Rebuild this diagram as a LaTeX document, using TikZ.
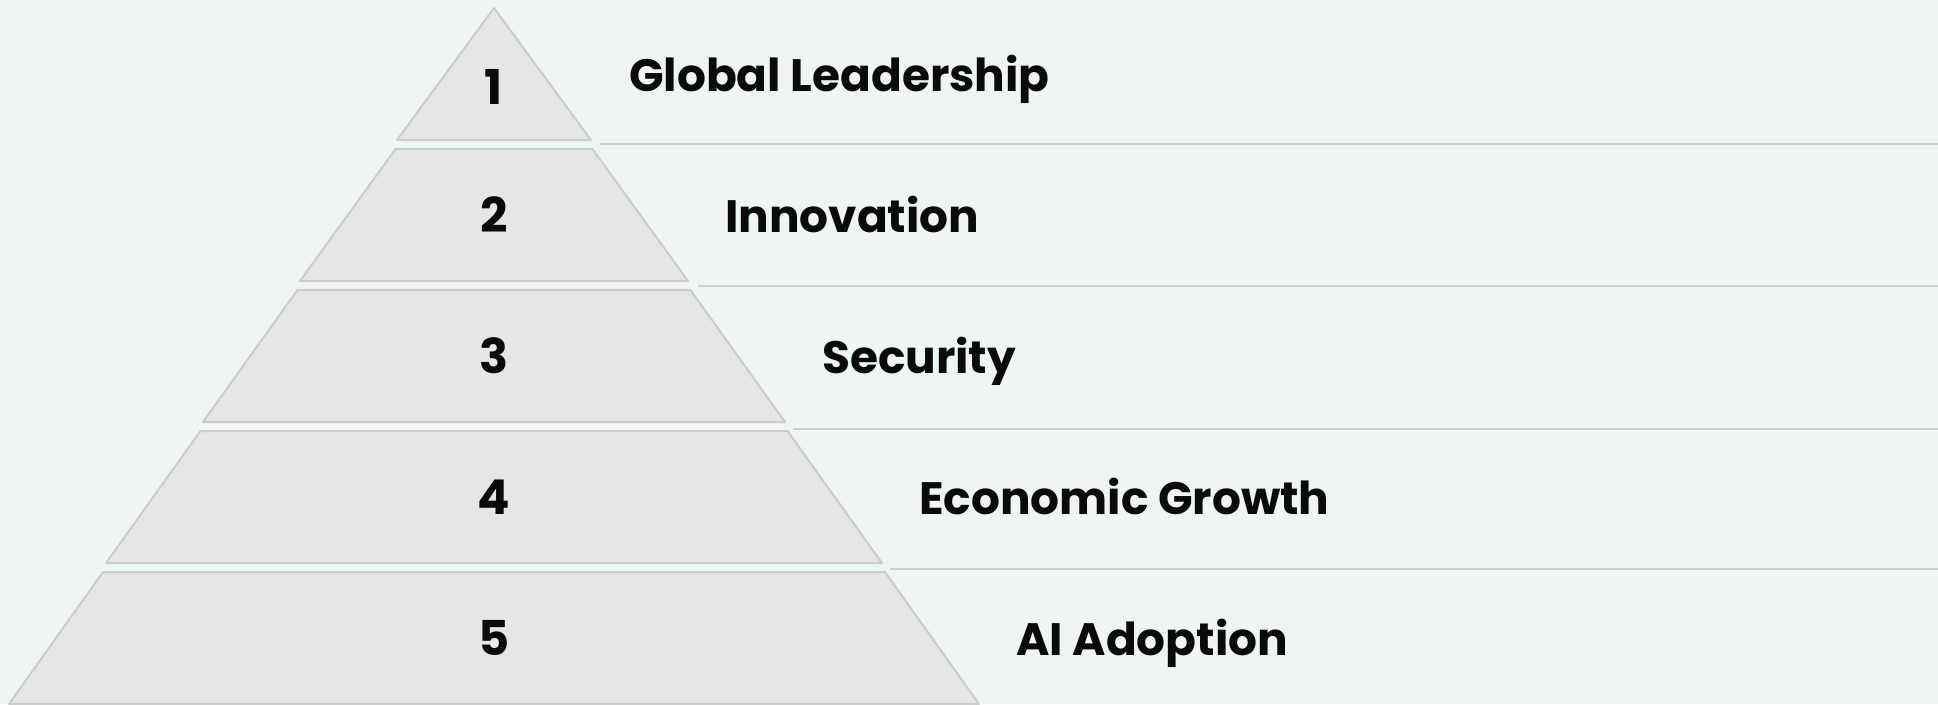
\documentclass[tikz,border=0pt]{standalone}
\usepackage{fontspec}
\setmainfont{Poppins}
\usepackage{xcolor}
\usepackage{tikz}
\usetikzlibrary{positioning}

\definecolor{bgcol}{HTML}{EFF5F5}
\definecolor{tiercol}{HTML}{E6E6E6}
\definecolor{edgecol}{HTML}{CCCCCC}
\definecolor{inkcol}{HTML}{0A0A0A}

\tikzset{
  tier/.style={fill=tiercol,draw=edgecol,line width=2pt,line join=round},
  sepline/.style={draw=edgecol,line width=2pt},
  tiernum/.style={inner sep=0pt,anchor=base,text=inkcol,font=\fontsize{48}{56}\selectfont\bfseries},
  tierlabel/.style={inner sep=0pt,anchor=base west,text=inkcol,font=\fontsize{45.4}{54}\selectfont\bfseries}
}

\begin{document}
\begin{tikzpicture}[x=1pt,y=-1pt]
  \fill[bgcol] (0,0) rectangle (1938,704);
  \useasboundingbox (0,0) rectangle (1938,704);
  % pyramid tiers
  \draw[tier] (494,8) -- (591,140) -- (397,140) -- cycle;
  \draw[tier] (395.5,149) -- (592.5,149) -- (688,281) -- (300,281) -- cycle;
  \draw[tier] (297.5,290) -- (690.5,290) -- (785,422) -- (203,422) -- cycle;
  \draw[tier] (200.5,431) -- (787.5,431) -- (882,563) -- (106,563) -- cycle;
  \draw[tier] (103,572) -- (885,572) -- (979,704) -- (9,704) -- cycle;
  % separators
  \draw[sepline] (600,143.5) -- (1938,143.5);
  \draw[sepline] (698,286) -- (1938,286);
  \draw[sepline] (793,428.5) -- (1938,428.5);
  \draw[sepline] (890,568.5) -- (1938,568.5);
  % numbers
  \node[tiernum] (n1) at (494,104) {1};
  \node[tiernum] (n2) at (494,232) {2};
  \node[tiernum] (n3) at (494,373) {3};
  \node[tiernum] (n4) at (494,514) {4};
  \node[tiernum] (n5) at (494,655) {5};
  % labels
  \node[tierlabel] (l1) at (629,91) {Global Leadership};
  \node[tierlabel] (l2) at (725,232) {Innovation};
  \node[tierlabel] (l3) at (822,373) {Security};
  \node[tierlabel] (l4) at (919,514) {Economic Growth};
  \node[tierlabel] (l5) at (1016,655) {AI Adoption};
\end{tikzpicture}
\end{document}
